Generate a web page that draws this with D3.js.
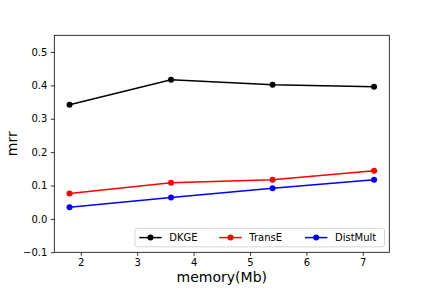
<!DOCTYPE html>
<html>
<head>
<meta charset="utf-8">
<script src="https://cdn.jsdelivr.net/npm/d3@7"></script>
<style>
  html, body { margin: 0; padding: 0; background: #fff; }
  svg { display: block; font-family: "DejaVu Sans", sans-serif; }
</style>
</head>
<body>
<div id="chart"></div>
<script>
const memory = [1.8, 3.6, 5.4, 7.2];
const dkge = [0.342, 0.417, 0.402, 0.396];
const transE = [0.076, 0.108, 0.117, 0.144];
const distMult = [0.035, 0.064, 0.092, 0.117];
const xTicks = [2, 3, 4, 5, 6, 7];
const yTicks = [-0.1, 0.0, 0.1, 0.2, 0.3, 0.4, 0.5];

const series = [
  { name: 'DKGE', values: dkge, color: '#000000' },
  { name: 'TransE', values: transE, color: '#ff0000' },
  { name: 'DistMult', values: distMult, color: '#0000ff' }
];

const W = 432, H = 288;
const margin = { top: 35.3, right: 42.7, bottom: 35.7, left: 54.3 };
const width = W - margin.left - margin.right;
const height = H - margin.top - margin.bottom;

const svg = d3.select('#chart').append('svg')
  .attr('width', W)
  .attr('height', H);

const g = svg.append('g')
  .attr('transform', `translate(${margin.left},${margin.top})`);

// matplotlib-style 5% padding on x
const xPad = (d3.max(memory) - d3.min(memory)) * 0.05;
const x = d3.scaleLinear()
  .domain([d3.min(memory) - xPad, d3.max(memory) + xPad])
  .range([0, width]);

const y = d3.scaleLinear()
  .domain([-0.1, 0.55])
  .range([height, 0]);

const xAxis = g.append('g')
  .attr('transform', `translate(0,${height})`)
  .call(d3.axisBottom(x).tickValues(xTicks).tickSize(3.5).tickPadding(3.5).tickFormat(d3.format('d')));

const yAxis = g.append('g')
  .call(d3.axisLeft(y).tickValues(yTicks).tickSize(3.5).tickPadding(3.5).tickFormat(d3.format('.1f')));

[xAxis, yAxis].forEach(a => {
  a.select('.domain').remove();
  a.selectAll('.tick line').attr('stroke', '#000').attr('stroke-width', 0.8);
  a.selectAll('.tick text').attr('fill', '#000').style('font-size', '10px').style('font-family', '"DejaVu Sans", sans-serif');
});

const line = d3.line()
  .x((d, i) => x(memory[i]))
  .y(d => y(d));

series.forEach(s => {
  g.append('path')
    .datum(s.values)
    .attr('fill', 'none')
    .attr('stroke', s.color)
    .attr('stroke-width', 1.5)
    .attr('d', line);

  g.selectAll(null)
    .data(s.values)
    .enter().append('circle')
    .attr('cx', (d, i) => x(memory[i]))
    .attr('cy', d => y(d))
    .attr('r', 3)
    .attr('fill', s.color);
});

// frame
g.append('rect')
  .attr('width', width)
  .attr('height', height)
  .attr('fill', 'none')
  .attr('stroke', '#000')
  .attr('stroke-width', 0.8);

// legend
const legend = g.append('g')
  .attr('transform', `translate(${135 - margin.left},${228.3 - margin.top})`);

legend.append('rect')
  .attr('width', 249.5)
  .attr('height', 18.5)
  .attr('rx', 2)
  .attr('fill', '#fff')
  .attr('fill-opacity', 0.8)
  .attr('stroke', '#cccccc')
  .attr('stroke-width', 0.8);

const entryX = [4.3, 84.3, 170];
series.forEach((s, i) => {
  const e = legend.append('g').attr('transform', `translate(${entryX[i]},9.3)`);
  e.append('line')
    .attr('x1', 0).attr('x2', 22.4)
    .attr('stroke', s.color)
    .attr('stroke-width', 1.5);
  e.append('circle')
    .attr('cx', 11.2)
    .attr('r', 3)
    .attr('fill', s.color);
  e.append('text')
    .attr('x', 30)
    .attr('y', 3.6)
    .style('font-size', '10px')
    .attr('fill', '#000')
    .text(s.name);
});

// axis labels
svg.append('text')
  .attr('x', margin.left + width / 2)
  .attr('y', 282)
  .attr('text-anchor', 'middle')
  .style('font-size', '14px')
  .text('memory(Mb)');

svg.append('text')
  .attr('transform', `translate(16.5,${margin.top + height / 2}) rotate(-90)`)
  .attr('text-anchor', 'middle')
  .style('font-size', '14px')
  .text('mrr');
</script>
</body>
</html>
